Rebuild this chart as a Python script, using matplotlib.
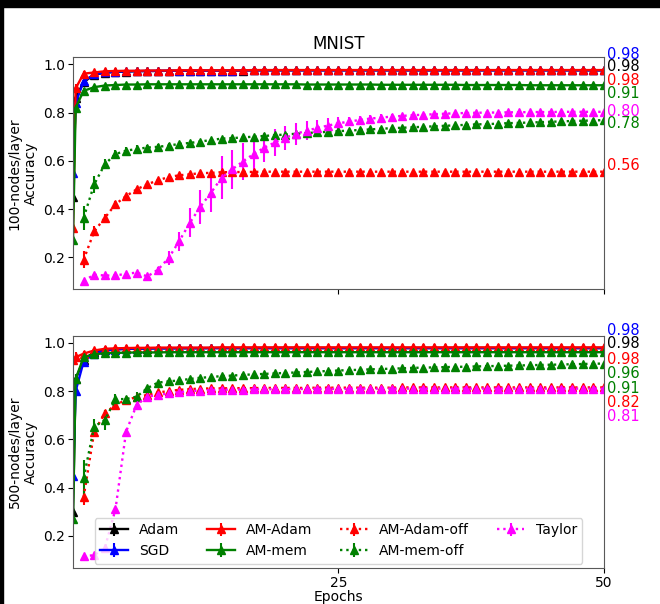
import numpy as np
import matplotlib
matplotlib.use('Agg')
import matplotlib.pyplot as plt
from matplotlib.patches import Rectangle

# x positions
epochs_on = [0, 0.25] + list(range(1, 51))   # online methods (recorded from start)
epochs_off = list(range(1, 51))               # offline methods

# ---- 100 nodes/layer ----
adam_100 = [0.45, 0.86, 0.926, 0.957, 0.965, 0.968, 0.970, 0.971, 0.972, 0.972, 0.973, 0.973,
            0.973, 0.974, 0.974, 0.974, 0.974, 0.974, 0.975, 0.975, 0.975, 0.975, 0.975, 0.975,
            0.975, 0.975, 0.975, 0.975, 0.975, 0.975, 0.975, 0.975, 0.975, 0.975, 0.975, 0.975,
            0.975, 0.975, 0.975, 0.975, 0.975, 0.975, 0.975, 0.975, 0.975, 0.975, 0.975, 0.975,
            0.975, 0.975, 0.975, 0.975]
sgd_100 = [0.55, 0.84, 0.930, 0.958, 0.966, 0.969, 0.971, 0.972, 0.972, 0.973, 0.973, 0.973,
           0.974, 0.974, 0.974, 0.974, 0.974, 0.975, 0.975, 0.975, 0.975, 0.975, 0.975, 0.975,
           0.975, 0.975, 0.975, 0.975, 0.975, 0.975, 0.975, 0.975, 0.975, 0.975, 0.975, 0.975,
           0.975, 0.975, 0.975, 0.975, 0.975, 0.975, 0.975, 0.975, 0.975, 0.975, 0.975, 0.975,
           0.975, 0.975, 0.975, 0.975]
amadam_100 = [0.32, 0.90, 0.961, 0.966, 0.971, 0.972, 0.973, 0.973, 0.974, 0.974, 0.974, 0.975,
              0.975, 0.975, 0.975, 0.975, 0.975, 0.975, 0.976, 0.976, 0.976, 0.976, 0.976, 0.976,
              0.976, 0.976, 0.976, 0.976, 0.976, 0.976, 0.976, 0.976, 0.976, 0.976, 0.976, 0.976,
              0.976, 0.976, 0.976, 0.976, 0.976, 0.976, 0.976, 0.976, 0.976, 0.976, 0.976, 0.976,
              0.976, 0.976, 0.976, 0.976]
ammem_100 = [0.27, 0.82, 0.890, 0.905, 0.912, 0.914, 0.916, 0.916, 0.917, 0.917, 0.917, 0.917,
             0.917, 0.917, 0.917, 0.917, 0.917, 0.917, 0.917, 0.917, 0.917, 0.917, 0.917, 0.916,
             0.916, 0.916, 0.916, 0.916, 0.916, 0.916, 0.915, 0.915, 0.915, 0.915, 0.915, 0.915,
             0.915, 0.915, 0.914, 0.914, 0.914, 0.914, 0.914, 0.914, 0.913, 0.913, 0.913, 0.913,
             0.913, 0.913, 0.913, 0.913]
amadam_off_100 = [0.190, 0.308, 0.364, 0.420, 0.454, 0.482, 0.503, 0.519, 0.533, 0.540,
                  0.544, 0.549, 0.550, 0.553, 0.553, 0.554, 0.554, 0.555, 0.555, 0.555,
                  0.555, 0.555, 0.555, 0.555, 0.555, 0.555, 0.555, 0.555, 0.555, 0.555,
                  0.555, 0.555, 0.555, 0.555, 0.555, 0.555, 0.555, 0.555, 0.555, 0.555,
                  0.555, 0.555, 0.555, 0.555, 0.555, 0.555, 0.555, 0.555, 0.555, 0.555]
ammem_off_100 = [0.364, 0.503, 0.586, 0.628, 0.642, 0.649, 0.655, 0.658, 0.663, 0.670,
                 0.674, 0.680, 0.686, 0.692, 0.694, 0.697, 0.700, 0.703, 0.706, 0.709,
                 0.712, 0.715, 0.718, 0.720, 0.723, 0.725, 0.728, 0.730, 0.733, 0.735,
                 0.737, 0.739, 0.741, 0.743, 0.745, 0.747, 0.749, 0.751, 0.752, 0.754,
                 0.756, 0.757, 0.759, 0.760, 0.762, 0.763, 0.765, 0.766, 0.767, 0.769]
taylor_100 = [0.103, 0.128, 0.125, 0.125, 0.132, 0.137, 0.121, 0.149, 0.197, 0.267,
              0.343, 0.410, 0.468, 0.530, 0.565, 0.597, 0.628, 0.654, 0.676, 0.696,
              0.712, 0.725, 0.736, 0.746, 0.755, 0.763, 0.769, 0.775, 0.779, 0.783,
              0.786, 0.789, 0.791, 0.793, 0.795, 0.797, 0.798, 0.799, 0.800, 0.800,
              0.801, 0.801, 0.802, 0.802, 0.802, 0.803, 0.803, 0.803, 0.803, 0.803]
taylor_err_100 = [0.005, 0.005, 0.005, 0.005, 0.005, 0.005, 0.006, 0.010, 0.030, 0.040,
                  0.060, 0.070, 0.080, 0.090, 0.080, 0.075, 0.065, 0.060, 0.055, 0.050,
                  0.045, 0.040, 0.035, 0.030, 0.025, 0.020, 0.018, 0.015, 0.013, 0.012,
                  0.010, 0.010, 0.009, 0.008, 0.008, 0.007, 0.007, 0.006, 0.006, 0.006,
                  0.005, 0.005, 0.005, 0.005, 0.005, 0.005, 0.005, 0.005, 0.005, 0.005]
ammem_off_err_100 = [0.05, 0.035, 0.02, 0.015, 0.015, 0.015, 0.012, 0.012, 0.01, 0.01] + [0.006] * 40
amadam_off_err_100 = [0.035, 0.02, 0.015, 0.012, 0.01] + [0.005] * 45

# ---- 500 nodes/layer ----
adam_500 = [0.30, 0.85, 0.930, 0.962, 0.970, 0.973, 0.975, 0.976, 0.976, 0.977, 0.977, 0.977,
            0.977, 0.977, 0.978, 0.978, 0.978, 0.978, 0.978, 0.978, 0.978, 0.978, 0.978, 0.978,
            0.978, 0.978, 0.978, 0.978, 0.978, 0.978, 0.978, 0.978, 0.978, 0.978, 0.978, 0.978,
            0.978, 0.978, 0.978, 0.978, 0.978, 0.978, 0.978, 0.978, 0.978, 0.978, 0.978, 0.978,
            0.978, 0.978, 0.978, 0.978]
sgd_500 = [0.45, 0.80, 0.922, 0.955, 0.968, 0.972, 0.975, 0.976, 0.977, 0.977, 0.977, 0.978,
           0.978, 0.978, 0.978, 0.978, 0.978, 0.978, 0.978, 0.978, 0.978, 0.978, 0.978, 0.978,
           0.978, 0.978, 0.978, 0.978, 0.978, 0.978, 0.978, 0.978, 0.978, 0.978, 0.978, 0.978,
           0.978, 0.978, 0.978, 0.978, 0.978, 0.978, 0.978, 0.978, 0.978, 0.978, 0.978, 0.978,
           0.978, 0.978, 0.978, 0.978]
amadam_500 = [0.93, 0.94, 0.955, 0.968, 0.975, 0.977, 0.978, 0.979, 0.979, 0.980, 0.980, 0.980,
              0.980, 0.980, 0.980, 0.981, 0.981, 0.981, 0.981, 0.981, 0.981, 0.981, 0.981, 0.981,
              0.981, 0.981, 0.981, 0.981, 0.981, 0.981, 0.981, 0.981, 0.981, 0.981, 0.981, 0.981,
              0.981, 0.981, 0.981, 0.981, 0.981, 0.981, 0.981, 0.981, 0.981, 0.981, 0.981, 0.981,
              0.981, 0.981, 0.981, 0.981]
ammem_500 = [0.27, 0.85, 0.940, 0.952, 0.957, 0.958, 0.959, 0.960, 0.960, 0.960, 0.961, 0.961,
             0.961, 0.961, 0.961, 0.961, 0.961, 0.961, 0.961, 0.961, 0.961, 0.961, 0.961, 0.961,
             0.961, 0.961, 0.961, 0.961, 0.961, 0.961, 0.961, 0.961, 0.961, 0.961, 0.961, 0.961,
             0.961, 0.961, 0.961, 0.961, 0.961, 0.961, 0.961, 0.961, 0.961, 0.961, 0.961, 0.961,
             0.961, 0.961, 0.961, 0.961]
amadam_off_500 = [0.360, 0.632, 0.708, 0.743, 0.763, 0.775, 0.784, 0.794, 0.800, 0.805,
                  0.808, 0.810, 0.811, 0.811, 0.812, 0.812, 0.812, 0.813, 0.813, 0.813,
                  0.813, 0.813, 0.814, 0.814, 0.814, 0.814, 0.814, 0.814, 0.814, 0.814,
                  0.815, 0.815, 0.815, 0.815, 0.815, 0.815, 0.815, 0.815, 0.815, 0.815,
                  0.815, 0.815, 0.815, 0.815, 0.815, 0.815, 0.815, 0.815, 0.815, 0.815]
ammem_off_500 = [0.440, 0.653, 0.680, 0.766, 0.767, 0.777, 0.812, 0.835, 0.840, 0.844,
                 0.850, 0.855, 0.858, 0.862, 0.864, 0.867, 0.869, 0.871, 0.873, 0.875,
                 0.877, 0.879, 0.881, 0.883, 0.885, 0.887, 0.888, 0.890, 0.891, 0.893,
                 0.894, 0.896, 0.897, 0.898, 0.899, 0.900, 0.901, 0.902, 0.903, 0.904,
                 0.905, 0.906, 0.907, 0.908, 0.909, 0.910, 0.911, 0.912, 0.913, 0.914]
taylor_500 = [0.116, 0.120, 0.150, 0.310, 0.632, 0.743, 0.777, 0.784, 0.790, 0.795,
              0.800, 0.802, 0.804, 0.805, 0.806, 0.806, 0.807, 0.807, 0.808, 0.808,
              0.808, 0.809, 0.809, 0.809, 0.809, 0.809, 0.810, 0.810, 0.810, 0.810,
              0.810, 0.810, 0.810, 0.810, 0.810, 0.810, 0.810, 0.810, 0.810, 0.810,
              0.810, 0.810, 0.810, 0.810, 0.810, 0.810, 0.810, 0.810, 0.810, 0.810]
ammem_off_err_500 = [0.075, 0.03, 0.04, 0.02, 0.01, 0.02, 0.01, 0.008] + [0.005] * 42
amadam_off_err_500 = [0.03, 0.02, 0.015, 0.01] + [0.005] * 46
taylor_err_500 = [0.005, 0.005, 0.01, 0.01, 0.01] + [0.004] * 45
online_err = [0.02, 0.02, 0.01, 0.006] + [0.003] * 48

# right-hand side final-accuracy labels (text, colour, y position)
labels_100 = [('0.98', 'b', 1.042), ('0.98', 'k', 0.992), ('0.98', 'r', 0.933),
              ('0.91', 'g', 0.878), ('0.80', 'magenta', 0.805), ('0.78', 'g', 0.753),
              ('0.56', 'r', 0.579)]
labels_500 = [('0.98', 'b', 1.051), ('0.98', 'k', 0.996), ('0.98', 'r', 0.932),
              ('0.96', 'g', 0.874), ('0.91', 'g', 0.812), ('0.82', 'r', 0.752),
              ('0.81', 'magenta', 0.694)]


def draw(ax, on, off, off_err):
    adam, sgd, amadam, ammem = on
    amadam_off, ammem_off, taylor = off
    e_amadam_off, e_ammem_off, e_taylor = off_err
    kw = dict(marker='^', markersize=5.5, linewidth=1.7, elinewidth=1.5)
    ax.errorbar(epochs_on, adam, yerr=online_err, color='k', linestyle='-', label='Adam', **kw)
    ax.errorbar(epochs_on, sgd, yerr=online_err, color='b', linestyle='-', label='SGD', **kw)
    ax.errorbar(epochs_on, amadam, yerr=online_err, color='r', linestyle='-', label='AM-Adam', **kw)
    ax.errorbar(epochs_on, ammem, yerr=online_err, color='g', linestyle='-', label='AM-mem', **kw)
    ax.errorbar(epochs_off, amadam_off, yerr=e_amadam_off, color='r', linestyle=':',
                label='AM-Adam-off', **kw)
    ax.errorbar(epochs_off, ammem_off, yerr=e_ammem_off, color='g', linestyle=':',
                label='AM-mem-off', **kw)
    ax.errorbar(epochs_off, taylor, yerr=e_taylor, color='magenta', linestyle=':',
                label='Taylor', **kw)
    ax.set_xlim(0, 50)
    ax.set_ylim(0.067, 1.03)
    ax.set_xticks([25, 50])
    ax.set_yticks([0.2, 0.4, 0.6, 0.8, 1.0])
    ax.tick_params(labelsize=10, pad=2)
    for s in ax.spines.values():
        s.set_color('0.35')


fig, (ax1, ax2) = plt.subplots(2, 1, figsize=(6.6, 6.04), dpi=100, sharex=True)
fig.subplots_adjust(left=0.1106, right=0.915, top=0.9056, bottom=0.0596, hspace=0.198)

draw(ax1, (adam_100, sgd_100, amadam_100, ammem_100),
     (amadam_off_100, ammem_off_100, taylor_100),
     (amadam_off_err_100, ammem_off_err_100, taylor_err_100))
draw(ax2, (adam_500, sgd_500, amadam_500, ammem_500),
     (amadam_off_500, ammem_off_500, taylor_500),
     (amadam_off_err_500, ammem_off_err_500, taylor_err_500))

ax1.set_title('MNIST', fontsize=12)
ax1.set_ylabel('100-nodes/layer\nAccuracy', fontsize=10)
ax2.set_ylabel('500-nodes/layer\nAccuracy', fontsize=10)
ax2.set_xlabel('Epochs', fontsize=10, labelpad=0)

for ax, labs in ((ax1, labels_100), (ax2, labels_500)):
    for txt, col, y in labs:
        ax.text(1.005, y, txt, color=col, fontsize=10.5, va='center', ha='left',
                transform=ax.get_yaxis_transform(), clip_on=False)

ax2.legend(loc='lower center', ncol=4, fontsize=10, borderaxespad=0.3)

# dark strips along the top and left edge of the original image
fig.patches.append(Rectangle((0, 1 - 7 / 604), 1, 7 / 604, transform=fig.transFigure,
                             color='black', zorder=10))
fig.patches.append(Rectangle((0, 0), 3 / 660, 1, transform=fig.transFigure,
                             color='black', zorder=10))

fig.savefig('out.png', dpi=100)
